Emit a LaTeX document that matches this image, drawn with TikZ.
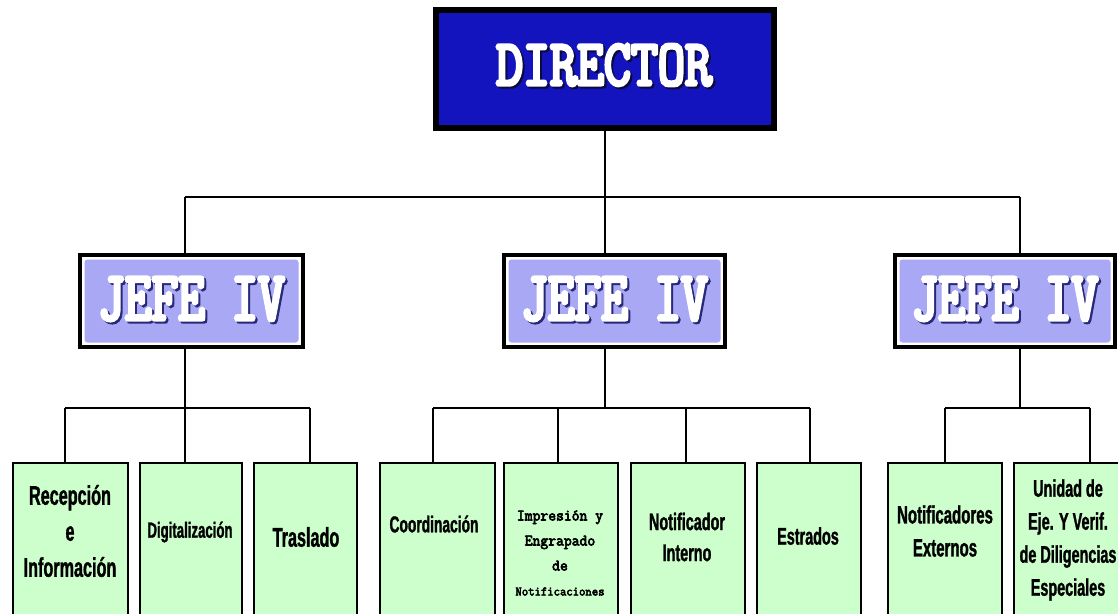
\documentclass[tikz,border=0pt]{standalone}
\usepackage{fontspec}
\setmainfont{Liberation Sans}
\newfontfamily\cond{Liberation Sans}[FakeStretch=0.6, FakeBold=1.2]
\newfontfamily\slabdir{Latin Modern Mono}[FakeStretch=0.8, FakeBold=5]
\newfontfamily\slabjefe{Latin Modern Mono}[FakeStretch=0.74, FakeBold=5]
\newfontfamily\typ{Latin Modern Mono}[FakeStretch=0.95, FakeBold=4]

\definecolor{dirblue}{RGB}{20,20,190}
\definecolor{jefefill}{RGB}{168,168,245}
\definecolor{leaffill}{RGB}{204,255,204}
\definecolor{dirshadow}{RGB}{10,10,60}
\definecolor{jefeshadow}{RGB}{40,40,120}

% white lettering with a dark drop shadow
\newcommand\shadowed[2]{\leavevmode
  \rlap{\color{#1}\kern2pt\raisebox{-2pt}{#2}}{\color{white}#2}}

\tikzset{
  dirbox/.style={draw=black, line width=6pt, fill=dirblue, rectangle,
    minimum width=338pt, minimum height=118pt, inner sep=0pt},
  jefebox/.style={draw=black, line width=4pt, fill=white, rectangle,
    minimum height=92pt, inner sep=0pt,
    path picture={\fill[jefefill, rounded corners=3pt]
      ([shift={(4.5pt,-4.5pt)}]path picture bounding box.north west) rectangle
      ([shift={(-4.5pt,4.5pt)}]path picture bounding box.south east);}},
  leafbox/.style={draw=black, line width=2.5pt, fill=leaffill, rectangle,
    minimum height=177pt, inner sep=0pt},
  leaftext/.style={align=center, font=\cond\bfseries\fontsize{24}{33}\selectfont, inner sep=0pt},
  conn/.style={draw=black, line width=2pt},
}

\begin{document}
\begin{tikzpicture}[x=1pt, y=-1pt]
\useasboundingbox (0,0) rectangle (1118,613);
\clip (0,0) rectangle (1118,613);
\fill[white] (0,0) rectangle (1118,613);

% top level
\node[dirbox] (d) at (605,69) {};
\node[font=\slabdir\fontsize{65.5}{66}\selectfont, inner sep=0pt] (dt) at (604,66)
  {\shadowed{dirshadow}{DIRECTOR}};

% second level
\node[jefebox, minimum width=223pt] (j1) at (191.5,301) {};
\node[jefebox, minimum width=221pt] (j2) at (614.5,301) {};
\node[jefebox, minimum width=220pt] (j3) at (1005,301) {};
\foreach \n/\x in {1/191.5, 2/614.5, 3/1005}
  \node[font=\slabjefe\fontsize{70}{70}\selectfont, inner sep=0pt] (jt\n) at (\x,300)
    {\shadowed{jefeshadow}{JEFE IV}};

% third level boxes
\node[leafbox, minimum width=115pt] (b1) at (70.5,551.5) {};
\node[leafbox, minimum width=102pt] (b2) at (191,551.5) {};
\node[leafbox, minimum width=103pt] (b3) at (305.5,551.5) {};
\node[leafbox, minimum width=115pt] (b4) at (437.5,551.5) {};
\node[leafbox, minimum width=114pt] (b5) at (561,551.5) {};
\node[leafbox, minimum width=114pt] (b6) at (688,551.5) {};
\node[leafbox, minimum width=104pt] (b7) at (809,551.5) {};
\node[leafbox, minimum width=114pt] (b8) at (945,551.5) {};
\node[leafbox, minimum width=110pt] (b9) at (1069,551.5) {};

% box labels
\node[leaftext, font=\cond\bfseries\fontsize{27}{36}\selectfont] (t1) at (70,531)
  {Recepción\\e\\Información};
\node[leaftext, font=\cond\bfseries\fontsize{22}{30}\selectfont] (t2) at (190,532) {Digitalización};
\node[leaftext, font=\cond\bfseries\fontsize{27}{36}\selectfont] (t3) at (306,537) {Traslado};
\node[leaftext, font=\cond\bfseries\fontsize{23}{30}\selectfont] (t4) at (434,524) {Coordinación};
\node[align=center, inner sep=0pt, font=\typ\fontsize{16}{25}\selectfont] (t5) at (560,553)
  {Impresión y\\Engrapado\\de\\{\fontsize{13}{25}\selectfont Notificaciones}};
\node[leaftext, font=\cond\bfseries\fontsize{24}{31}\selectfont] (t6) at (687,537)
  {Notificador\\Interno};
\node[leaftext] (t7) at (808,536) {Estrados};
\node[leaftext, font=\cond\bfseries\fontsize{25}{33}\selectfont] (t8) at (945,531)
  {Notificadores\\Externos};
\node[leaftext] (t9) at (1068,540)
  {Unidad de\\Eje. Y Verif.\\de Diligencias\\Especiales};

% connector points
\coordinate (top) at (605,197);
\coordinate (h1) at (185,197);
\coordinate (h3) at (1020,197);
\coordinate (m1) at (185,408);
\coordinate (m2) at (605,408);
\coordinate (m3) at (1020,408);
\foreach \n/\x in {1/65, 2/185, 3/310, 4/433, 5/558, 6/686, 7/810, 8/945, 9/1090}
  \coordinate (k\n) at (\x,408);

% director to heads
\draw[conn] (d.south) -- (top);
\draw[conn] (h1) -- (h3);
\draw[conn] (h1) -- (h1 |- j1.north);
\draw[conn] (top) -- (top |- j2.north);
\draw[conn] (h3) -- (h3 |- j3.north);

% heads to units
\draw[conn] (m1 |- j1.south) -- (m1);
\draw[conn] (m2 |- j2.south) -- (m2);
\draw[conn] (m3 |- j3.south) -- (m3);
\draw[conn] (k1) -- (k3);
\draw[conn] (k4) -- (k7);
\draw[conn] (k8) -- (k9);
\foreach \n in {1,...,9}
  \draw[conn] (k\n) -- (k\n |- b\n.north);
\end{tikzpicture}
\end{document}
